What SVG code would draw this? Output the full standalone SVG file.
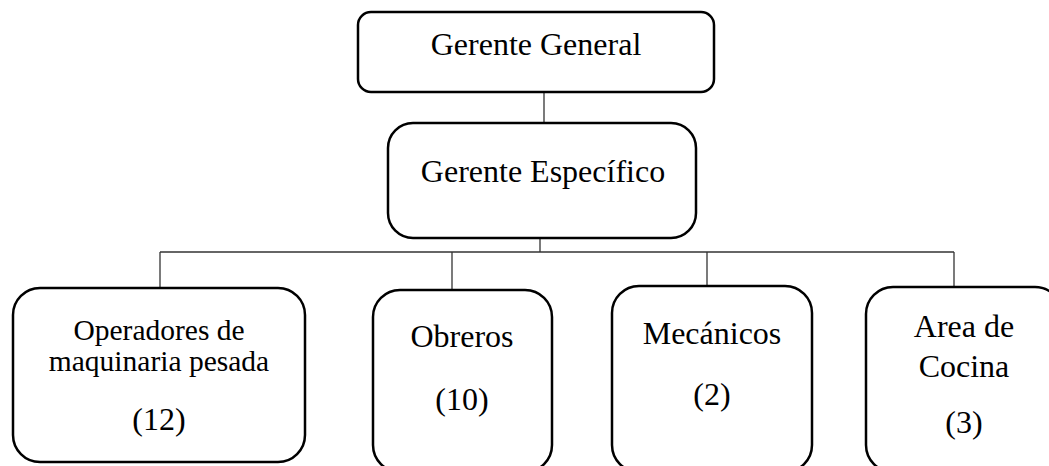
<svg xmlns="http://www.w3.org/2000/svg" width="1049" height="466" viewBox="0 0 1049 466">
<style>
.box{fill:#fff;stroke:#000;stroke-width:2.5}
.conn{stroke:#333;stroke-width:1.3;fill:none}
text{font-family:"Liberation Serif","Times New Roman",serif;font-size:32px;fill:#000;text-anchor:middle}
.sm{font-size:29.5px}
</style>
<rect width="1049" height="466" fill="#fff"/>
<g id="connectors">
<line class="conn" x1="544" y1="93" x2="544" y2="123"/>
<line class="conn" x1="540" y1="238" x2="540" y2="252"/>
<line class="conn" x1="160" y1="252" x2="954" y2="252"/>
<line class="conn" x1="160" y1="252" x2="160" y2="288"/>
<line class="conn" x1="452" y1="252" x2="452" y2="290"/>
<line class="conn" x1="707" y1="252" x2="707" y2="286"/>
<line class="conn" x1="954" y1="252" x2="954" y2="287"/>
</g>
<g id="gerente-general">
<rect class="box" x="358" y="12" width="356" height="80" rx="13"/>
<text x="536" y="55">Gerente General</text>
</g>
<g id="gerente-especifico">
<rect class="box" x="388" y="123" width="308" height="115" rx="25"/>
<text x="543" y="182">Gerente Específico</text>
</g>
<g id="operadores">
<rect class="box" x="13" y="288" width="292" height="174" rx="27"/>
<text class="sm" x="159" y="340">Operadores de</text>
<text class="sm" x="159" y="371">maquinaria pesada</text>
<text x="159" y="430">(12)</text>
</g>
<g id="obreros">
<rect class="box" x="373" y="290" width="179" height="182" rx="27"/>
<text x="462" y="347">Obreros</text>
<text x="462" y="410">(10)</text>
</g>
<g id="mecanicos">
<rect class="box" x="612" y="286" width="200" height="186" rx="27"/>
<text x="712" y="344">Mecánicos</text>
<text x="712" y="405">(2)</text>
</g>
<g id="cocina">
<rect class="box" x="866" y="287" width="196" height="185" rx="27"/>
<text x="964" y="337">Area de</text>
<text x="964" y="377">Cocina</text>
<text x="964" y="433">(3)</text>
</g>
</svg>
